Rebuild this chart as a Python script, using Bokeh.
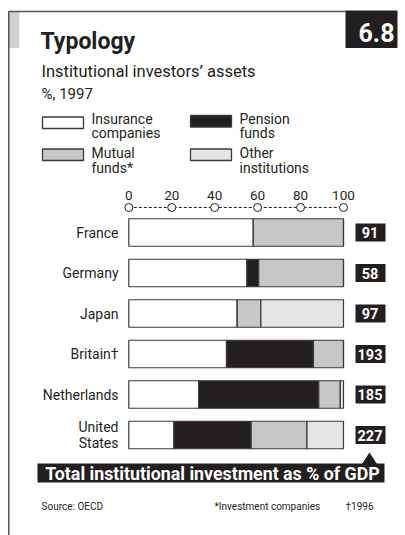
from bokeh.plotting import figure
from bokeh.models import Range1d, ColumnDataSource
from bokeh.embed import file_html
from bokeh.resources import INLINE
from bokeh.core.properties import value

# ---------------- data ----------------
countries = ["France", "Germany", "Japan", "Britain†", "Netherlands", "United\nStates"]
insurance = [58.0, 55.0, 50.5, 45.5, 32.5, 21.0]
pension = [0.0, 5.5, 0.0, 40.5, 56.0, 36.0]
mutual = [42.0, 39.5, 11.0, 14.0, 10.0, 26.0]
other = [0.0, 0.0, 38.5, 0.0, 1.5, 17.0]
totals = [91, 58, 97, 193, 185, 227]
ticks = [0, 20, 40, 60, 80, 100]
series_names = ["insurance", "pension", "mutual", "other"]
legend_labels = ["Insurance\ncompanies", "Pension\nfunds", "Mutual\nfunds*", "Other\ninstitutions"]
colors = ["#ffffff", "#231f20", "#c6c7c9", "#e4e5e6"]

FONT = value("Roboto")
INK = "#231f20"

# ---------------- layout helpers (page pixels -> data) ----------------
W, H = 405, 535
X0, KX = 128.3, 2.147   # page x of 0 %, pixels per percent
Y0, KY = 232.0, 40.5    # page y of first row centre, pixels per row


def fx(px):
    return (px - X0) / KX


def fy(py):
    return (py - Y0) / KY


def fb(py, size):
    # place a text baseline (page px) compensating for descent
    return fy(py - 0.22 * size)


p = figure(width=W, height=H, output_backend="svg", toolbar_location=None,
           x_range=Range1d(fx(0), fx(W)), y_range=Range1d(fy(H), fy(0)),
           x_axis_location=None, y_axis_location=None, min_border=0,
           outline_line_color=None, background_fill_color="white",
           border_fill_color="white")
p.grid.visible = False

rows = list(range(len(countries)))
src = ColumnDataSource(dict(row=rows, insurance=insurance, pension=pension,
                            mutual=mutual, other=other))

# ---------------- frame / header ----------------
p.quad(left=fx(8), right=fx(19), top=fy(11), bottom=fy(47.5),
       fill_color="#cfd1d3", line_color=None)
p.line([fx(8.25), fx(8.25)], [fy(10.5), fy(535)], line_color="#555555", line_width=1.5)
p.line([fx(8), fx(345)], [fy(11), fy(11)], line_color="#555555", line_width=1.5)
p.quad(left=fx(345), right=fx(397), top=fy(10), bottom=fy(47.5),
       fill_color=INK, line_color=None)
p.text(x=[fx(376)], y=[fb(37.5, 25)], text=["6.8"], text_font=FONT, text_font_style="bold",
       text_font_size="25px", text_color="white", text_align="center",
       text_baseline="alphabetic")

p.text(x=[fx(40)], y=[fb(46, 23)], text=["Typology"], text_font=FONT,
       text_font_style="bold", text_font_size="23px", text_color=INK,
       text_baseline="alphabetic")
p.text(x=[fx(41)], y=[fb(75, 16.5)], text=["Institutional investors’ assets"], text_font=FONT,
       text_font_size="16.5px", text_color=INK, text_baseline="alphabetic")
p.text(x=[fx(41)], y=[fb(97, 15)], text=["%, 1997"], text_font=FONT,
       text_font_size="15px", text_color=INK, text_baseline="alphabetic")

# ---------------- legend ----------------
sw_left = [42, 190, 42, 190]
sw_top = [116.5, 115, 148.5, 148.5]
txt_base = [121.5, 121.5, 156, 156]
for i, lab in enumerate(legend_labels):
    l = sw_left[i]
    t = sw_top[i]
    p.quad(left=fx(l), right=fx(l + 41), top=fy(t), bottom=fy(t + 11.5),
           fill_color=colors[i], line_color="#3a3a3a", line_width=1.3)
    lines = lab.split("\n")
    for j, ln in enumerate(lines):
        p.text(x=[fx(l + 49)], y=[fb(txt_base[i] + 14.5 * j, 14)], text=[ln], text_font=FONT,
               text_font_size="14px", text_color=INK, text_baseline="alphabetic")

# ---------------- axis (top) ----------------
ay = fy(207)
p.line([ticks[0], ticks[-1]], [ay, ay], line_dash="3 2", line_color=INK, line_width=1)
p.scatter(x=ticks, y=[ay] * len(ticks), size=8, marker="circle", fill_color="white",
          line_color=INK, line_width=1)
p.text(x=ticks, y=[fb(198, 13.5)] * len(ticks), text=[str(t) for t in ticks], text_font=FONT,
       text_font_size="13.5px", text_color=INK, text_align="center",
       text_baseline="alphabetic")

# ---------------- bars ----------------
p.hbar_stack(series_names, y="row", height=0.68, fill_color=colors,
             line_color="#3a3a3a", line_width=1.2, source=src)

p.text(x=[fx(118)] * len(rows), y=rows, text=countries, text_font=FONT,
       text_font_size="14px", text_color=INK, text_align="right",
       text_baseline="middle", text_line_height=1.05)

# totals boxes
p.rect(x=[fx(370)] * len(rows), y=rows, width=30 / KX, height=18 / KY,
       fill_color=INK, line_color=None)
p.text(x=[fx(369.5)] * len(rows), y=rows, text=[str(t) for t in totals], text_font=FONT,
       text_font_style="bold", text_font_size="14.5px", text_color="white",
       text_align="center", text_baseline="middle")

# callout band
p.patch([fx(361.5), fx(369), fx(376.5)], [fy(463.5), fy(452), fy(463.5)],
        fill_color=INK, line_color=None)
p.quad(left=fx(37), right=fx(384), top=fy(463), bottom=fy(482),
       fill_color=INK, line_color=None)
p.text(x=[fx(212)], y=[fy(472.5)], text=["Total institutional investment as % of GDP"],
       text_font=FONT, text_font_style="bold", text_font_size="17.8px",
       text_color="white", text_align="center", text_baseline="middle")

# footer
p.text(x=[fx(41)], y=[fb(508, 10)], text=["Source: OECD"], text_font=FONT,
       text_font_size="10px", text_color=INK, text_baseline="alphabetic")
p.text(x=[fx(214)], y=[fb(508, 10)], text=["*Investment companies"], text_font=FONT,
       text_font_size="10px", text_color=INK, text_baseline="alphabetic")
p.text(x=[fx(345)], y=[fb(508, 10)], text=["†1996"], text_font=FONT,
       text_font_size="10px", text_color=INK, text_baseline="alphabetic")

open("out.html", "w").write(file_html(p, INLINE))
